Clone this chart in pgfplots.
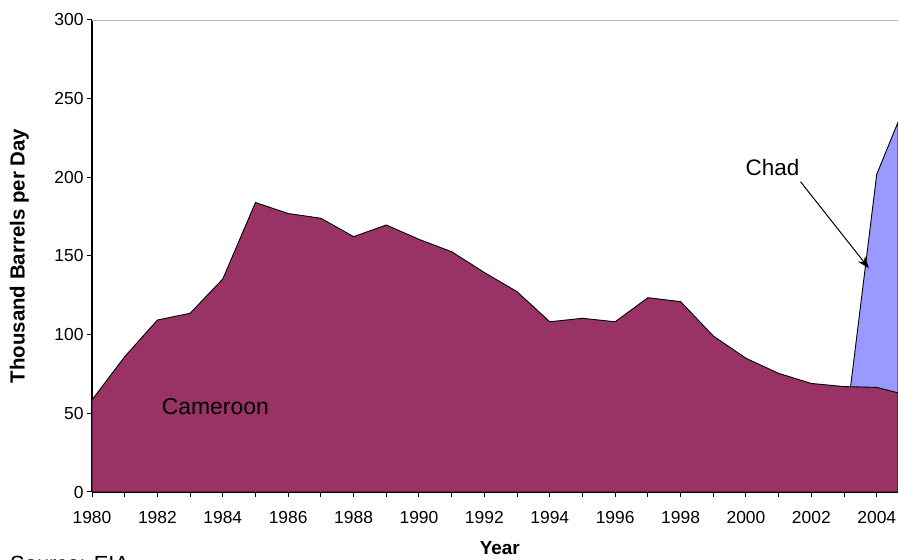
\documentclass[border=0pt]{standalone}
\usepackage{pgfplots}
\pgfplotsset{compat=1.18}
\usepackage{fontspec}
\setmainfont{Liberation Sans}
\usetikzlibrary{arrows.meta}
\definecolor{cam}{HTML}{993366}
\definecolor{chad}{HTML}{9999FF}
\begin{document}
\begin{tikzpicture}[x=1bp,y=1bp]
\begin{axis}[
  at={(92bp,68bp)}, anchor=south west,
  scale only axis, width=806bp, height=472bp,
  xmin=1980, xmax=2004.65, ymin=0, ymax=300,
  axis lines*=left,
  axis line style={black, line width=1.1bp},
  tick align=outside, tick pos=left,
  major tick length=5bp, minor tick length=5bp,
  every tick/.style={black, line width=1bp},
  xtick={1980,1982,...,2004},
  minor xtick={1981,1983,...,2003},
  ytick={0,50,...,250},
  extra y ticks={300},
  extra y tick style={grid=major, major grid style={gray!60, line width=0.8bp}},
  /pgf/number format/assume math mode=true,
  xticklabel style={/pgf/number format/1000 sep={}, font=\fontsize{17.5}{19}\selectfont, yshift=-11bp},
  yticklabel style={font=\fontsize{17.5}{19}\selectfont},
  xlabel={Year},
  ylabel={Thousand Barrels per Day},
  xlabel style={font=\bfseries\fontsize{19}{21}\selectfont, at={(axis description cs:0.506,-0.119)}, anchor=center},
  ylabel style={font=\bfseries\fontsize{20.5}{22}\selectfont, at={(axis description cs:-0.09,0.5)}, anchor=center},
]
\addplot[fill=chad, draw=black, line width=0.9bp] coordinates {
  (2003.2,67) (2004,202) (2004.65,235) (2004.65,0) (2003.2,0)
} -- cycle;
\addplot[fill=cam, draw=black, line width=0.9bp] coordinates {
  (1980,58.5) (1981,86) (1982,109.3) (1983,113.6) (1984,135.4)
  (1985,184) (1986,177) (1987,174) (1988,162.3) (1989,169.7)
  (1990,160.6) (1991,152.7) (1992,139.5) (1993,127.3) (1994,108.2)
  (1995,110.4) (1996,108.2) (1997,123.5) (1998,121) (1999,99.2)
  (2000,85) (2001,75.4) (2002,69) (2003,67) (2004,66.5) (2004.65,63)
} \closedcycle;
\node[font=\fontsize{23}{25}\selectfont] at (axis cs:1983.77,54) {Cameroon};
\node[font=\fontsize{22.5}{24}\selectfont] at (axis cs:2000.81,206) {Chad};
\draw[-{Stealth[length=12bp,width=9bp]}, line width=1bp] (axis cs:2001.67,197.2) -- (axis cs:2003.76,142.2);
\end{axis}
\node[anchor=base west, inner sep=0, font=\fontsize{22}{24}\selectfont] at (10bp,-11bp) {Source: EIA};
\pgfresetboundingbox
\useasboundingbox (0,0) rectangle (898bp,560bp);
\end{tikzpicture}
\end{document}
